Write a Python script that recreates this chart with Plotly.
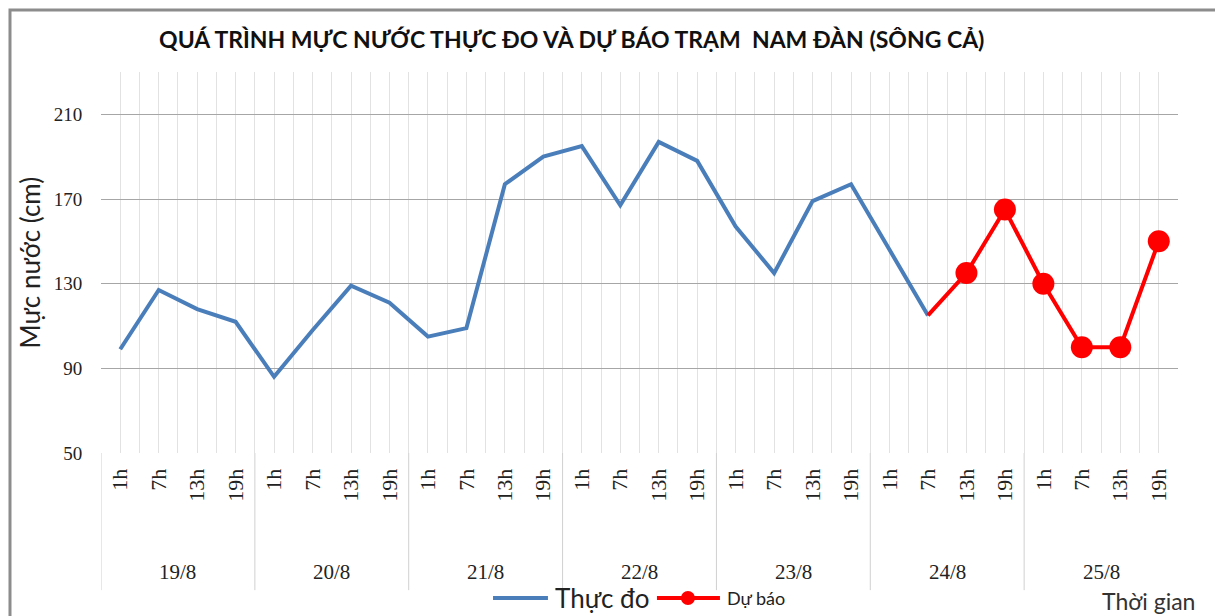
import plotly.graph_objects as go

days = ["19/8", "20/8", "21/8", "22/8", "23/8", "24/8", "25/8"]
hours = ["1h", "7h", "13h", "19h"]
hour_labels = [h for d in days for h in hours]

# Thực đo (observed)
thuc_do = [99, 127, 118, 112,
           86, 108, 129, 121,
           105, 109, 177, 190,
           195, 167, 197, 188,
           157, 135, 169, 177,
           146, 115, None, None,
           None, None, None, None]
# Dự báo (forecast)
du_bao = [None] * 21 + [115, 135, 165, 130, 100, 100, 150]

x = list(range(len(hour_labels)))
y_ticks = [50, 90, 130, 170, 210]

BLUE = "#4a7ebb"
RED = "#ff0000"

fig = go.Figure()
fig.add_trace(go.Scatter(
    x=x, y=thuc_do, mode="lines", name="Thực đo",
    line=dict(color=BLUE, width=4), showlegend=False,
))
fig.add_trace(go.Scatter(
    x=x, y=du_bao, mode="lines+markers", name="Dự báo",
    line=dict(color=RED, width=4), showlegend=False,
    marker=dict(color=RED, opacity=1,
                size=[0 if v is None or i == 21 else 22 for i, v in enumerate(du_bao)],
                line=dict(width=0)),
))

n = len(x)
fig.update_xaxes(
    range=[-0.5, n - 0.5], automargin=False,
    tickmode="array", tickvals=x, ticktext=hour_labels,
    tickangle=-90,
    tickfont=dict(family="Liberation Serif", size=22, color="#222222"),
    ticks="outside", ticklen=6, tickcolor="white",
    showgrid=True, gridcolor="#e2e2e2", gridwidth=1,
    minor=dict(tickvals=[i - 0.5 for i in range(n + 1)], showgrid=True,
               gridcolor="#e2e2e2", gridwidth=1),
    showline=False, zeroline=False,
)
fig.update_yaxes(
    range=[50, 230], automargin=False,
    tickmode="array", tickvals=y_ticks,
    tickfont=dict(family="Liberation Serif", size=19, color="#222222"),
    ticks="outside", ticklen=14, tickcolor="white",
    showgrid=True, gridcolor="#a6a6a6", gridwidth=1,
    zeroline=False, showline=False,
)

shapes = []
# day separators below the plot
for k in range(len(days)):
    xv = k * 4 - 0.5
    shapes.append(dict(type="line", xref="x", yref="paper", x0=xv, x1=xv,
                       y0=0, y1=-0.36, line=dict(color="#d0d0d0", width=1)))
# outer frame
shapes.append(dict(type="rect", xref="paper", yref="paper",
                   x0=-0.0845, x1=1.037, y0=-0.45, y1=1.163,
                   line=dict(color="#8c8c8c", width=3), layer="below"))

# manual legend
LEG_Y = -0.3806
shapes.append(dict(type="line", xref="paper", yref="paper", x0=0.364, x1=0.415,
                   y0=LEG_Y, y1=LEG_Y, line=dict(color=BLUE, width=4)))
shapes.append(dict(type="line", xref="paper", yref="paper", x0=0.5162, x1=0.5747,
                   y0=LEG_Y, y1=LEG_Y, line=dict(color=RED, width=4)))
shapes.append(dict(type="circle", xref="paper", yref="paper",
                   xsizemode="pixel", ysizemode="pixel", xanchor=0.545, yanchor=LEG_Y,
                   x0=-7, x1=7, y0=-7, y1=7, fillcolor=RED, line=dict(width=0)))

annotations = []
for k, d in enumerate(days):
    annotations.append(dict(x=k * 4 + 1.5, y=-0.312, xref="x", yref="paper",
                            text=d, showarrow=False, xanchor="center", yanchor="middle",
                            font=dict(family="Liberation Serif", size=21, color="#222222")))
annotations.append(dict(x=-0.066, y=0.50, xref="paper", yref="paper",
                        text="Mực nước (cm)", textangle=-90, showarrow=False,
                        xanchor="center", yanchor="middle",
                        font=dict(family="Lato", size=26, color="#222222")))
annotations.append(dict(x=1.0176, y=-0.388, xref="paper", yref="paper",
                        text="Thời gian", showarrow=False, xanchor="right", yanchor="middle",
                        font=dict(family="Lato", size=23, color="#333333")))
annotations.append(dict(x=0.4197, y=LEG_Y, xref="paper", yref="paper",
                        text="Thực đo", showarrow=False, xanchor="left", yanchor="middle",
                        font=dict(family="Lato", size=26, color="#222222")))
annotations.append(dict(x=0.5794, y=LEG_Y, xref="paper", yref="paper",
                        text="Dự báo", showarrow=False, xanchor="left", yanchor="middle",
                        font=dict(family="Lato", size=18, color="#222222")))

fig.update_layout(
    width=1215, height=608,
    margin=dict(l=93, r=45, t=64, b=163, autoexpand=False),
    paper_bgcolor="white", plot_bgcolor="white",
    title=dict(text="<b>QUÁ TRÌNH MỰC NƯỚC THỰC ĐO VÀ DỰ BÁO TRẠM  NAM ĐÀN (SÔNG CẢ)</b>",
               x=0.464, xanchor="center", y=0.947, yanchor="middle",
               font=dict(family="Lato", size=23, color="#111111")),
    showlegend=False,
    shapes=shapes, annotations=annotations,
)

fig.write_html("out.html")
